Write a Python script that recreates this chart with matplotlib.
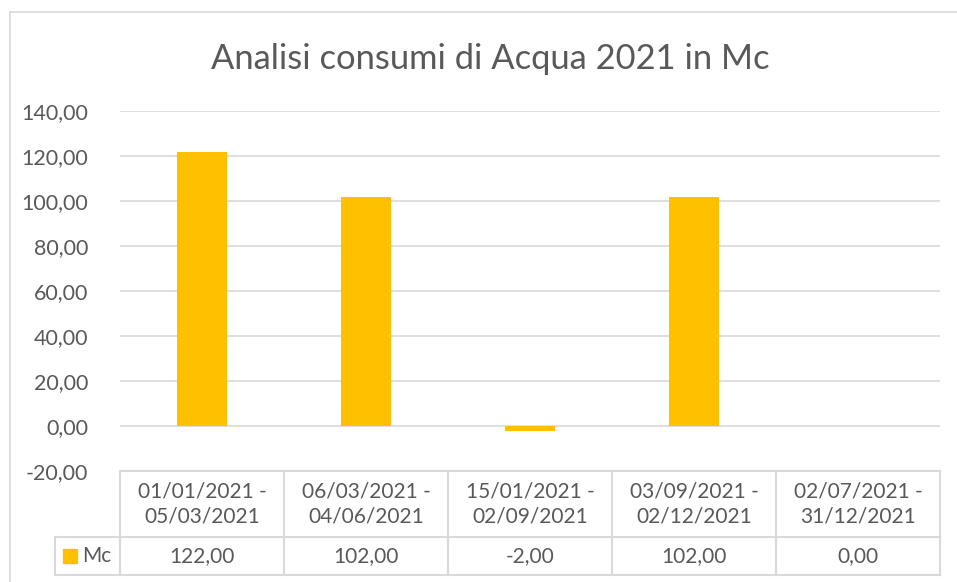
import matplotlib
matplotlib.use("Agg")
import matplotlib.pyplot as plt
from matplotlib.lines import Line2D
from matplotlib.patches import Rectangle

categories = ["01/01/2021 -\n05/03/2021", "06/03/2021 -\n04/06/2021", "15/01/2021 -\n02/09/2021",
              "03/09/2021 -\n02/12/2021", "02/07/2021 -\n31/12/2021"]
values = [122.0, 102.0, -2.0, 102.0, 0.0]
series_name = "Mc"
title = "Analisi consumi di Acqua 2021 in Mc"
yticks = [-20, 0, 20, 40, 60, 80, 100, 120, 140]

W, H = 957, 582
BAR = "#FFC000"
GRID = "#D9D9D9"
TXT = "#595959"
FONT = "Lato"

plt.rcParams["font.family"] = [FONT, "DejaVu Sans"]

def fmt(v):
    return f"{v:.2f}".replace(".", ",")

fig = plt.figure(figsize=(W / 100, H / 100), dpi=100)

def fx(px):
    return px / W

def fy(py):
    return 1 - py / H

# outer chart border
fig.add_artist(Line2D([fx(10), fx(10)], [fy(12), fy(582)], color=GRID, lw=1.2))
fig.add_artist(Line2D([fx(10), fx(957)], [fy(12), fy(12)], color=GRID, lw=1.2))

# main axes
L, R, T, B = 120, 940, 111, 471
ax = fig.add_axes([fx(L), fy(B), fx(R - L), fy(T) - fy(B)])
n = len(values)
ax.set_xlim(-0.5, n - 0.5)
ax.set_ylim(-20, 140)
ax.bar(range(n), values, width=0.305, color=BAR, zorder=3)
for t in yticks:
    if t != -20:
        ax.axhline(t, color=GRID, lw=1.2, zorder=1)
ax.set_yticks(yticks)
ax.set_yticklabels([fmt(t) for t in yticks], fontsize=15.5, color=TXT)
ax.tick_params(axis="y", length=0, pad=23)
ax.set_xticks([])
for s in ax.spines.values():
    s.set_visible(False)

fig.text(fx(490), fy(59), title, ha="center", va="center", fontsize=24.8, color=TXT)

# data table
TL = 55
TT, TM, TB = 471, 537, 575
leg_w = (L - TL) / ((R - L) / n)
tax = fig.add_axes([fx(TL), fy(TB), fx(R - TL), fy(TT) - fy(TB)])
tax.set_xlim(-0.5 - leg_w, n - 0.5)
tax.set_ylim(0, 1)
tax.axis("off")
ym = (TB - TM) / (TB - TT)
lw = 1.5
tax.plot([-0.5, n - 0.5], [1, 1], color=GRID, lw=lw, clip_on=False)
tax.plot([-0.5 - leg_w, n - 0.5], [ym, ym], color=GRID, lw=lw, clip_on=False)
tax.plot([-0.5 - leg_w, n - 0.5], [0, 0], color=GRID, lw=lw, clip_on=False)
tax.plot([-0.5 - leg_w, -0.5 - leg_w], [0, ym], color=GRID, lw=lw, clip_on=False)
for i in range(n + 1):
    tax.plot([i - 0.5, i - 0.5], [0, 1], color=GRID, lw=lw, clip_on=False)
for i, (c, v) in enumerate(zip(categories, values)):
    tax.text(i, (1 + ym) / 2, c, ha="center", va="center", fontsize=15, color=TXT, linespacing=1.3)
    tax.text(i, ym / 2, fmt(v), ha="center", va="center", fontsize=15, color=TXT)
# legend key
sq = 14 / ((R - L) / n)
x0 = -0.5 - leg_w + 8 / ((R - L) / n)
tax.add_patch(Rectangle((x0, ym / 2 - 0.068), sq, 0.135, color=BAR, clip_on=False))
tax.text(x0 + sq + 5 / ((R - L) / n), ym / 2, series_name, ha="left", va="center", fontsize=15, color=TXT)

fig.savefig("out.png", dpi=100, facecolor="white")
